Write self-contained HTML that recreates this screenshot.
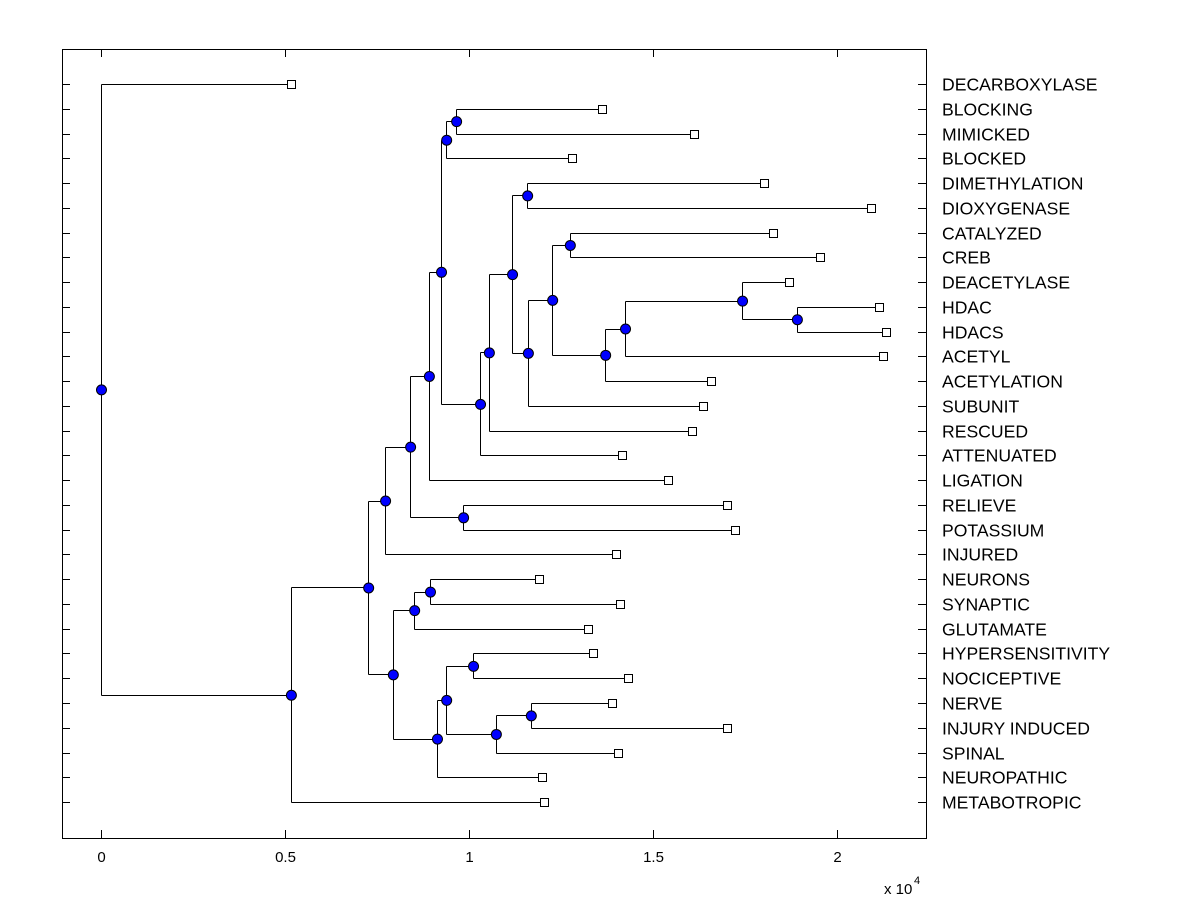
<!DOCTYPE html>
<html><head><meta charset="utf-8"><style>
body{margin:0;background:#fff;}
svg{display:block;font-family:"Liberation Sans",Arial,sans-serif;}
</style></head><body>
<svg id="chart" width="1200" height="900" xmlns="http://www.w3.org/2000/svg">
<rect x="0" y="0" width="1200" height="900" fill="#fff"/>
<g id="plot"></g>
</svg>
<script>
const leafNames = ["DECARBOXYLASE","BLOCKING","MIMICKED","BLOCKED","DIMETHYLATION","DIOXYGENASE","CATALYZED","CREB","DEACETYLASE","HDAC","HDACS","ACETYL","ACETYLATION","SUBUNIT","RESCUED","ATTENUATED","LIGATION","RELIEVE","POTASSIUM","INJURED","NEURONS","SYNAPTIC","GLUTAMATE","HYPERSENSITIVITY","NOCICEPTIVE","NERVE","INJURY INDUCED","SPINAL","NEUROPATHIC","METABOTROPIC"];
const leafDist = [0.516,1.361,1.611,1.280,1.802,2.092,1.826,1.954,1.870,2.114,2.133,2.125,1.658,1.636,1.606,1.416,1.541,1.701,1.723,1.399,1.190,1.410,1.323,1.337,1.432,1.389,1.701,1.405,1.198,1.204];
const nodeChildA = ["L9","L8","N1","N2","L6","N4","L4","N5","N6","N8","N9","L1","N11","N12","N13","L17","N14","N16","L20","N18","L23","L25","N21","N20","N23","N19","N17","N26","L0"];
const nodeChildB = ["L10","N0","L11","L12","L7","N3","L5","L13","N7","L14","L15","L2","L3","N10","L16","L18","N15","L19","L21","L22","L24","L26","L27","N22","L28","N24","N25","L29","N27"];
const nodeDist = [1.891,1.742,1.424,1.370,1.274,1.226,1.158,1.160,1.117,1.054,1.030,0.965,0.938,0.924,0.891,0.984,0.840,0.772,0.894,0.851,1.011,1.168,1.073,0.938,0.913,0.793,0.726,0.516,0];
const xTicks = [0,0.5,1,1.5,2];
const xTickLabels = ["0","0.5","1","1.5","2"];

const L=62,R=926,T=49,B=838;
const xs = v => 101 + v*368;
const ys = i => 84 + i*24.76;
const NS="http://www.w3.org/2000/svg";
const g=document.getElementById('plot');
function mk(tag,attrs,name){const e=document.createElementNS(NS,tag);for(const k in attrs)e.setAttribute(k,attrs[k]);


g.appendChild(e);return e;}

mk('rect',{x:L+0.5,y:T+0.5,width:R-L,height:B-T,fill:'none',stroke:'#000','stroke-width':1},'axes-box');
leafNames.forEach((n,i)=>{
  const y=Math.round(ys(i))+0.5;
  mk('line',{x1:L,y1:y,x2:L+8,y2:y,stroke:'#000'},'y-tick-left');
  mk('line',{x1:R-8,y1:y,x2:R,y2:y,stroke:'#000'},'y-tick-right');
  const t=mk('text',{x:942,y:y+6,'font-size':17.6,fill:'#000'},'leaf-label');t.textContent=n;
});
xTicks.forEach((v,i)=>{
  const x=Math.round(xs(v))+0.5;
  mk('line',{x1:x,y1:T,x2:x,y2:T+8,stroke:'#000'},'x-tick-top');
  mk('line',{x1:x,y1:B-8,x2:x,y2:B,stroke:'#000'},'x-tick-bottom');
  const t=mk('text',{x:x,y:862,'font-size':15,'text-anchor':'middle'},'x-tick-label');t.textContent=xTickLabels[i];
});
const ex=mk('text',{x:884,y:894,'font-size':15},'x-exponent-label');ex.textContent='x 10';
const ex2=mk('text',{x:914,y:884,'font-size':11},'x-exponent-power');ex2.textContent='4';

const nodeY=[];
function info(ref){const k=+ref.slice(1);return ref[0]==='L'?{x:leafDist[k],y:ys(k)}:{x:nodeDist[k],y:nodeY[k]};}
for(let i=0;i<nodeDist.length;i++){nodeY[i]=(info(nodeChildA[i]).y+info(nodeChildB[i]).y)/2;}
for(let i=0;i<nodeDist.length;i++){
  const a=info(nodeChildA[i]),b=info(nodeChildB[i]),x=Math.round(xs(nodeDist[i]))+0.5;
  mk('line',{x1:x,y1:Math.round(a.y)+0.5,x2:x,y2:Math.round(b.y)+0.5,stroke:'#000'},'branch-vertical');
  [a,b].forEach(c=>{const y=Math.round(c.y)+0.5;mk('line',{x1:x,y1:y,x2:Math.round(xs(c.x))+0.5,y2:y,stroke:'#000'},'branch-horizontal');});
}
leafNames.forEach((n,i)=>{mk('rect',{x:Math.round(xs(leafDist[i]))-3.5,y:Math.round(ys(i))-3.5,width:8,height:8,fill:'#fff',stroke:'#000'},'leaf-marker');});
for(let i=0;i<nodeDist.length;i++){mk('circle',{cx:xs(nodeDist[i])+0.5,cy:nodeY[i]+0.5,r:5,fill:'#0000ff',stroke:'#000','stroke-width':1},'node-marker');}
</script>
</body></html>
